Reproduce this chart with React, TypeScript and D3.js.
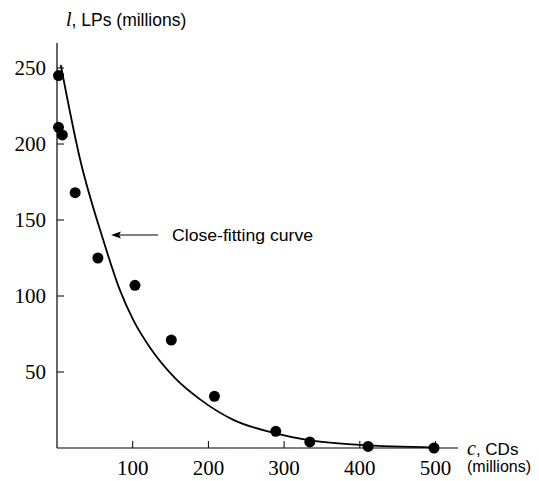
import React from "react";
import * as d3 from "d3";

// data
const cdSales = [2, 2, 7, 24, 54, 103, 151, 208, 289, 334, 411, 498];
const lpSales = [245, 211, 206, 168, 125, 107, 71, 34, 11, 4, 1, 0];

// the fitted curve
const curveC = [5, 30, 61, 83, 101, 123, 156, 189, 233, 290, 334, 400, 500];
const curveL = [252, 191, 137, 104, 84, 66, 46, 32, 18.5, 9.5, 5, 2, 0.3];

const xTicks = [100, 200, 300, 400, 500];
const yTicks = [50, 100, 150, 200, 250];

const W = 539;
const H = 481;

const App = () => {
  const x = d3.scaleLinear().domain([0, 500]).range([57, 435.5]);
  const y = d3.scaleLinear().domain([0, 250]).range([448, 68]);

  const line = d3
    .line<[number, number]>()
    .x((d) => x(d[0]))
    .y((d) => y(d[1]))
    .curve(d3.curveMonotoneX);

  const curvePts: [number, number][] = curveC.map((c, i) => [c, curveL[i]]);

  const serif = "'Liberation Serif', 'DejaVu Serif', serif";
  const sans = "'Liberation Sans', Arial, sans-serif";

  const arrowY = 235;

  return (
    <svg
      width={W}
      height={H}
      style={{ position: "absolute", left: 0, top: 0, background: "#fff" }}
    >
      {/* axes */}
      <line x1={x(0)} x2={x(0)} y1={43} y2={y(0)} stroke="#000" strokeWidth={1.2} />
      <line x1={x(0)} x2={458} y1={y(0)} y2={y(0)} stroke="#000" strokeWidth={1.2} />

      {yTicks.map((t) => (
        <g key={"y" + t}>
          <line x1={x(0)} x2={x(0) + 7} y1={y(t)} y2={y(t)} stroke="#000" strokeWidth={1} />
          <text
            x={46}
            y={y(t)}
            dy="0.35em"
            textAnchor="end"
            fontFamily={serif}
            fontSize={21}
          >
            {t}
          </text>
        </g>
      ))}

      {xTicks.map((t) => (
        <g key={"x" + t}>
          <line x1={x(t)} x2={x(t)} y1={y(0)} y2={y(0) - 7} stroke="#000" strokeWidth={1} />
          <text
            x={x(t)}
            y={475}
            textAnchor="middle"
            fontFamily={serif}
            fontSize={21}
          >
            {t}
          </text>
        </g>
      ))}

      {/* axis titles */}
      <text x={66} y={26} fontSize={17.5} fontFamily={sans}>
        <tspan fontFamily={serif} fontStyle="italic" fontSize={20}>l</tspan>
        <tspan>, LPs (millions)</tspan>
      </text>
      <text x={467} y={455} fontSize={17} fontFamily={sans}>
        <tspan fontFamily={serif} fontStyle="italic" fontSize={20}>c</tspan>
        <tspan>, CDs</tspan>
      </text>
      <text x={467} y={472} fontSize={16} fontFamily={sans}>
        (millions)
      </text>

      {/* fitted curve */}
      <path d={line(curvePts) || ""} fill="none" stroke="#000" strokeWidth={1.8} />

      {/* data points */}
      {cdSales.map((c, i) => (
        <circle key={i} cx={x(c)} cy={y(lpSales[i])} r={5.5} fill="#000" />
      ))}

      {/* annotation */}
      <line x1={118} x2={158} y1={arrowY} y2={arrowY} stroke="#000" strokeWidth={1.2} />
      <path
        d={`M111,${arrowY} L121,${arrowY - 3.5} L119,${arrowY} L121,${arrowY + 3.5} Z`}
        fill="#000"
      />
      <text
        x={172}
        y={arrowY + 6}
        fontFamily={sans}
        fontSize={16}
        textLength={141}
        lengthAdjust="spacingAndGlyphs"
      >
        Close-fitting curve
      </text>
    </svg>
  );
};

export default App;
